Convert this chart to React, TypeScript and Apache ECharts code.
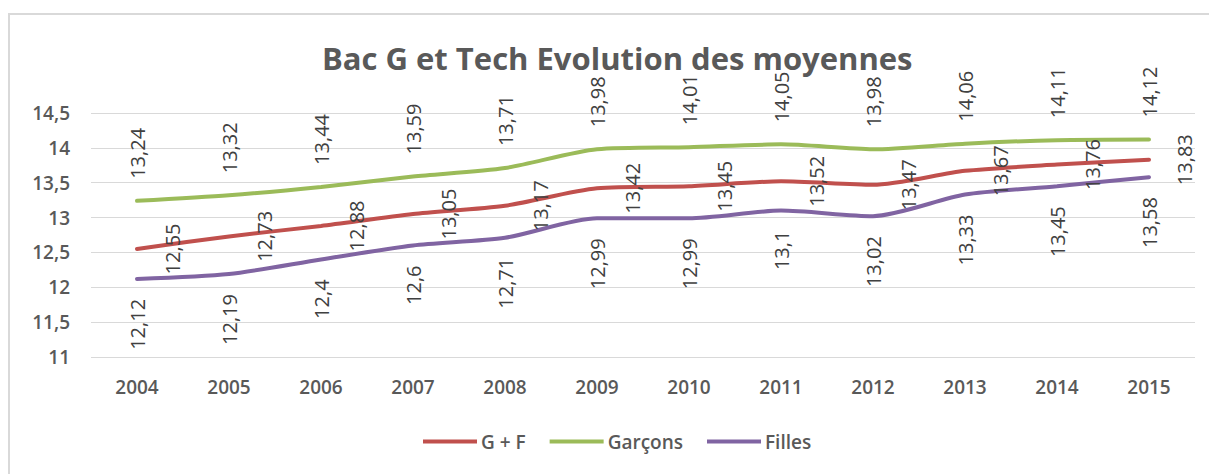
import React, { useEffect, useRef } from "react";
import * as echarts from "echarts";

const years = ["2004", "2005", "2006", "2007", "2008", "2009", "2010", "2011", "2012", "2013", "2014", "2015"];
const gf = [12.55, 12.73, 12.88, 13.05, 13.17, 13.42, 13.45, 13.52, 13.47, 13.67, 13.76, 13.83];
const garcons = [13.24, 13.32, 13.44, 13.59, 13.71, 13.98, 14.01, 14.05, 13.98, 14.06, 14.11, 14.12];
const filles = [12.12, 12.19, 12.4, 12.6, 12.71, 12.99, 12.99, 13.1, 13.02, 13.33, 13.45, 13.58];

const titleText = "Bac G et Tech Evolution des moyennes";
const FONT = "Open Sans";
const fr = (v: number) => String(v).replace(".", ",");

export default function App() {
  const ref = useRef<HTMLDivElement>(null);
  useEffect(() => {
    if (!ref.current) return;
    const chart = echarts.init(ref.current, undefined, { renderer: "svg" });
    const labelBase = {
      show: true,
      rotate: 90,
      fontFamily: FONT,
      fontSize: 20,
      color: "#404040",
      formatter: (p: any) => fr(p.value),
    };
    const mk = (name: string, data: number[], color: string, label: any) => ({
      name,
      type: "line",
      data,
      smooth: 0.25,
      symbol: "circle",
      symbolSize: 0,
      showSymbol: true,
      lineStyle: { color, width: 4, cap: "round" },
      itemStyle: { color },
      label: { ...labelBase, ...label },
      emphasis: { disabled: true },
    });
    chart.setOption({
      animation: false,
      backgroundColor: "#ffffff",
      title: {
        text: titleText,
        left: 317,
        top: 37,
        textStyle: { fontFamily: FONT, fontSize: 31, fontWeight: "bold", color: "#595959" },
      },
      legend: {
        left: 418,
        top: 427,
        itemWidth: 54,
        itemHeight: 4,
        itemGap: 24,
        icon: "rect",
        textStyle: { fontFamily: FONT, fontSize: 19, fontWeight: 600, color: "#595959", padding: [0, 0, 0, -1] },
        data: ["G + F", "Garçons", "Filles"],
      },
      graphic: [
        {
          type: "rect",
          shape: { x: 9, y: 14, width: 1260, height: 520 },
          style: { fill: "none", stroke: "#d9d9d9", lineWidth: 2 },
          silent: true,
          z: -1,
        },
      ],
      grid: { left: 91, right: 14, top: 113, bottom: 117, containLabel: false },
      xAxis: {
        type: "category",
        data: years,
        boundaryGap: true,
        axisLine: { show: false },
        axisTick: { show: false },
        axisLabel: { margin: 20, fontFamily: FONT, fontSize: 19, fontWeight: 600, color: "#595959" },
      },
      yAxis: {
        type: "value",
        min: 11,
        max: 14.5,
        interval: 0.5,
        axisLine: { show: false },
        axisTick: { show: false },
        splitLine: { lineStyle: { color: "#d9d9d9", width: 1 } },
        axisLabel: {
          margin: 21,
          fontFamily: FONT,
          fontSize: 19,
          fontWeight: 600,
          color: "#595959",
          formatter: (v: number) => fr(v),
        },
      },
      series: [
        mk("G + F", gf, "#c0504d", { position: "right", distance: 35, align: "center", verticalAlign: "middle" }),
        mk("Garçons", garcons, "#9bbb59", { position: "top", distance: 22, align: "left", verticalAlign: "middle" }),
        mk("Filles", filles, "#8064a2", { position: "bottom", distance: 20, align: "right", verticalAlign: "middle" }),
      ],
    });
    return () => chart.dispose();
  }, []);
  return (
    <div style={{ position: "absolute", left: 0, top: 0, width: 1209, height: 474 }}>
      <div ref={ref} style={{ width: 1209, height: 474 }} />
    </div>
  );
}
